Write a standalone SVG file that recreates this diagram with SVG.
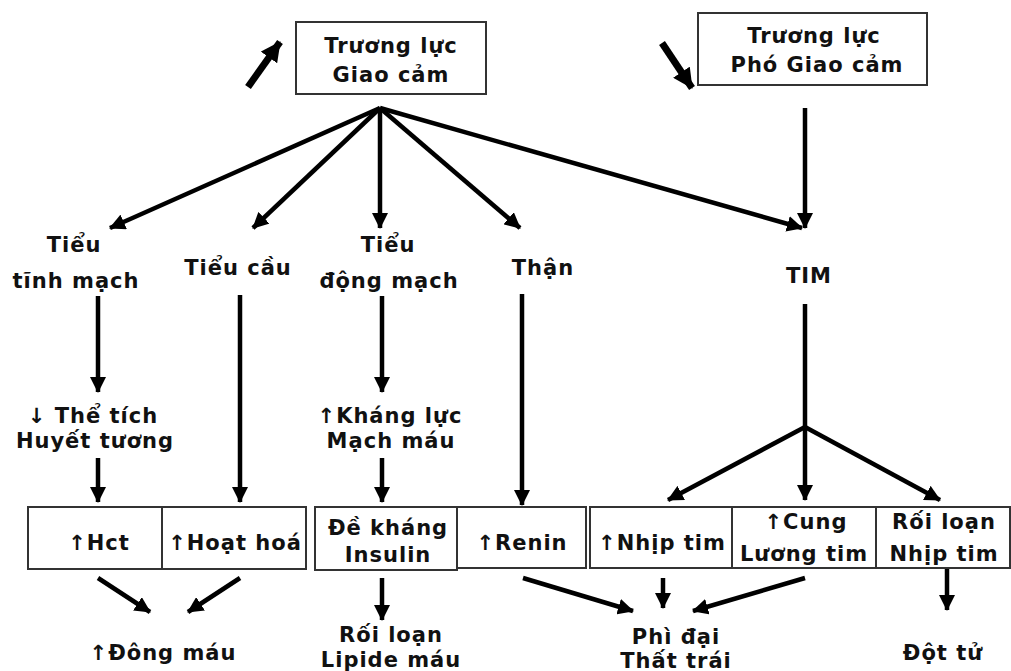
<svg xmlns="http://www.w3.org/2000/svg" width="1011" height="671" viewBox="0 0 1011 671">
<style>
.t{font-family:"DejaVu Sans","Liberation Sans",sans-serif;font-weight:bold;font-size:21px;letter-spacing:1px;fill:#111;text-anchor:middle}
.box{fill:#fff;stroke:#333;stroke-width:2}
.c{stroke:#000;stroke-width:4.5;fill:none;marker-end:url(#ah)}
.cl{stroke:#000;stroke-width:4.5;fill:none}
.big{stroke:#000;stroke-width:7;fill:none;marker-end:url(#ahb)}
</style>
<defs>
<marker id="ah" markerUnits="userSpaceOnUse" markerWidth="16" markerHeight="16" refX="15" refY="8" orient="auto" viewBox="0 0 16 16"><path d="M0,0 L16,8 L0,16 z" fill="#000"/></marker>
<marker id="ahb" markerUnits="userSpaceOnUse" markerWidth="20" markerHeight="20" refX="19" refY="10" orient="auto" viewBox="0 0 20 20"><path d="M0,0 L20,10 L0,20 z" fill="#000"/></marker>
</defs>
<rect width="1011" height="671" fill="#fff"/>
<g id="connectors">
<line class="big" x1="248" y1="87" x2="280" y2="42"/>
<line class="big" x1="662" y1="43" x2="692" y2="88"/>
<line class="c" x1="380" y1="108" x2="110" y2="228"/>
<line class="c" x1="380" y1="108" x2="253" y2="228"/>
<line class="c" x1="380" y1="108" x2="380" y2="228"/>
<line class="c" x1="380" y1="108" x2="520" y2="228"/>
<line class="c" x1="380" y1="108" x2="802" y2="228"/>
<line class="c" x1="805" y1="108" x2="805" y2="228"/>
<line class="c" x1="98" y1="296" x2="98" y2="392"/>
<line class="c" x1="240" y1="295" x2="240" y2="502"/>
<line class="c" x1="382" y1="296" x2="382" y2="392"/>
<line class="c" x1="522" y1="294" x2="522" y2="505"/>
<line class="cl" x1="805" y1="304" x2="805" y2="427"/>
<line class="c" x1="805" y1="427" x2="668" y2="500"/>
<line class="c" x1="805" y1="427" x2="805" y2="500"/>
<line class="c" x1="805" y1="427" x2="940" y2="500"/>
<line class="c" x1="98" y1="458" x2="98" y2="502"/>
<line class="c" x1="382" y1="458" x2="382" y2="502"/>
<line class="c" x1="98" y1="578" x2="150" y2="612"/>
<line class="c" x1="240" y1="578" x2="188" y2="612"/>
<line class="c" x1="382" y1="578" x2="382" y2="620"/>
<line class="c" x1="523" y1="578" x2="633" y2="611"/>
<line class="c" x1="663" y1="578" x2="663" y2="608"/>
<line class="c" x1="805" y1="578" x2="693" y2="611"/>
<line class="c" x1="947" y1="568" x2="947" y2="610"/>
</g>
<g id="n-giaocam">
<rect class="box" x="296" y="22" width="190" height="72"/>
<text class="t" x="391" y="53">Trương lực</text>
<text class="t" x="391" y="82">Giao cảm</text>
</g>
<g id="n-phogiaocam">
<rect class="box" x="698" y="13" width="229" height="72"/>
<text class="t" x="814" y="43">Trương lực</text>
<text class="t" x="817" y="72">Phó Giao cảm</text>
</g>
<g id="n-tinhmach">
<text class="t" x="74" y="252">Tiểu</text>
<text class="t" x="76" y="288">tĩnh mạch</text>
</g>
<g id="n-tieucau"><text class="t" x="238" y="275">Tiểu cầu</text></g>
<g id="n-dongmach">
<text class="t" x="388" y="252">Tiểu</text>
<text class="t" x="389" y="288">động mạch</text>
</g>
<g id="n-than"><text class="t" x="543" y="275">Thận</text></g>
<g id="n-tim"><text class="t" x="809" y="283">TIM</text></g>
<g id="n-thetich">
<text class="t" x="93" y="423">↓ Thể tích</text>
<text class="t" x="95" y="448">Huyết tương</text>
</g>
<g id="n-khangluc">
<text class="t" x="390" y="423">↑Kháng lực</text>
<text class="t" x="391" y="448">Mạch máu</text>
</g>
<g id="n-hct-hoathoa">
<rect class="box" x="28" y="507" width="278" height="62"/>
<line x1="162" y1="507" x2="162" y2="569" stroke="#333" stroke-width="2"/>
<text class="t" x="99" y="550">↑Hct</text>
<text class="t" x="235" y="550">↑Hoạt hoá</text>
</g>
<g id="n-insulin">
<rect class="box" x="315" y="507" width="142" height="63"/>
<text class="t" x="388" y="535">Đề kháng</text>
<text class="t" x="388" y="562">Insulin</text>
</g>
<g id="n-renin">
<rect class="box" x="457" y="507" width="129" height="61"/>
<text class="t" x="522" y="550">↑Renin</text>
</g>
<g id="n-tim-row">
<rect class="box" x="590" y="507" width="420" height="61"/>
<line x1="732" y1="507" x2="732" y2="568" stroke="#333" stroke-width="2"/>
<line x1="876" y1="507" x2="876" y2="568" stroke="#333" stroke-width="2"/>
<text class="t" x="662" y="550">↑Nhịp tim</text>
<text class="t" x="806" y="529">↑Cung</text>
<text class="t" x="804" y="561">Lương tim</text>
<text class="t" x="944" y="529">Rối loạn</text>
<text class="t" x="944" y="561">Nhịp tim</text>
</g>
<g id="n-dongmau"><text class="t" x="163" y="660">↑Đông máu</text></g>
<g id="n-lipide">
<text class="t" x="391" y="642">Rối loạn</text>
<text class="t" x="391" y="667">Lipide máu</text>
</g>
<g id="n-phidai">
<text class="t" x="676" y="644">Phì đại</text>
<text class="t" x="676" y="668">Thất trái</text>
</g>
<g id="n-dotu"><text class="t" x="943" y="660">Đột tử</text></g>
</svg>
